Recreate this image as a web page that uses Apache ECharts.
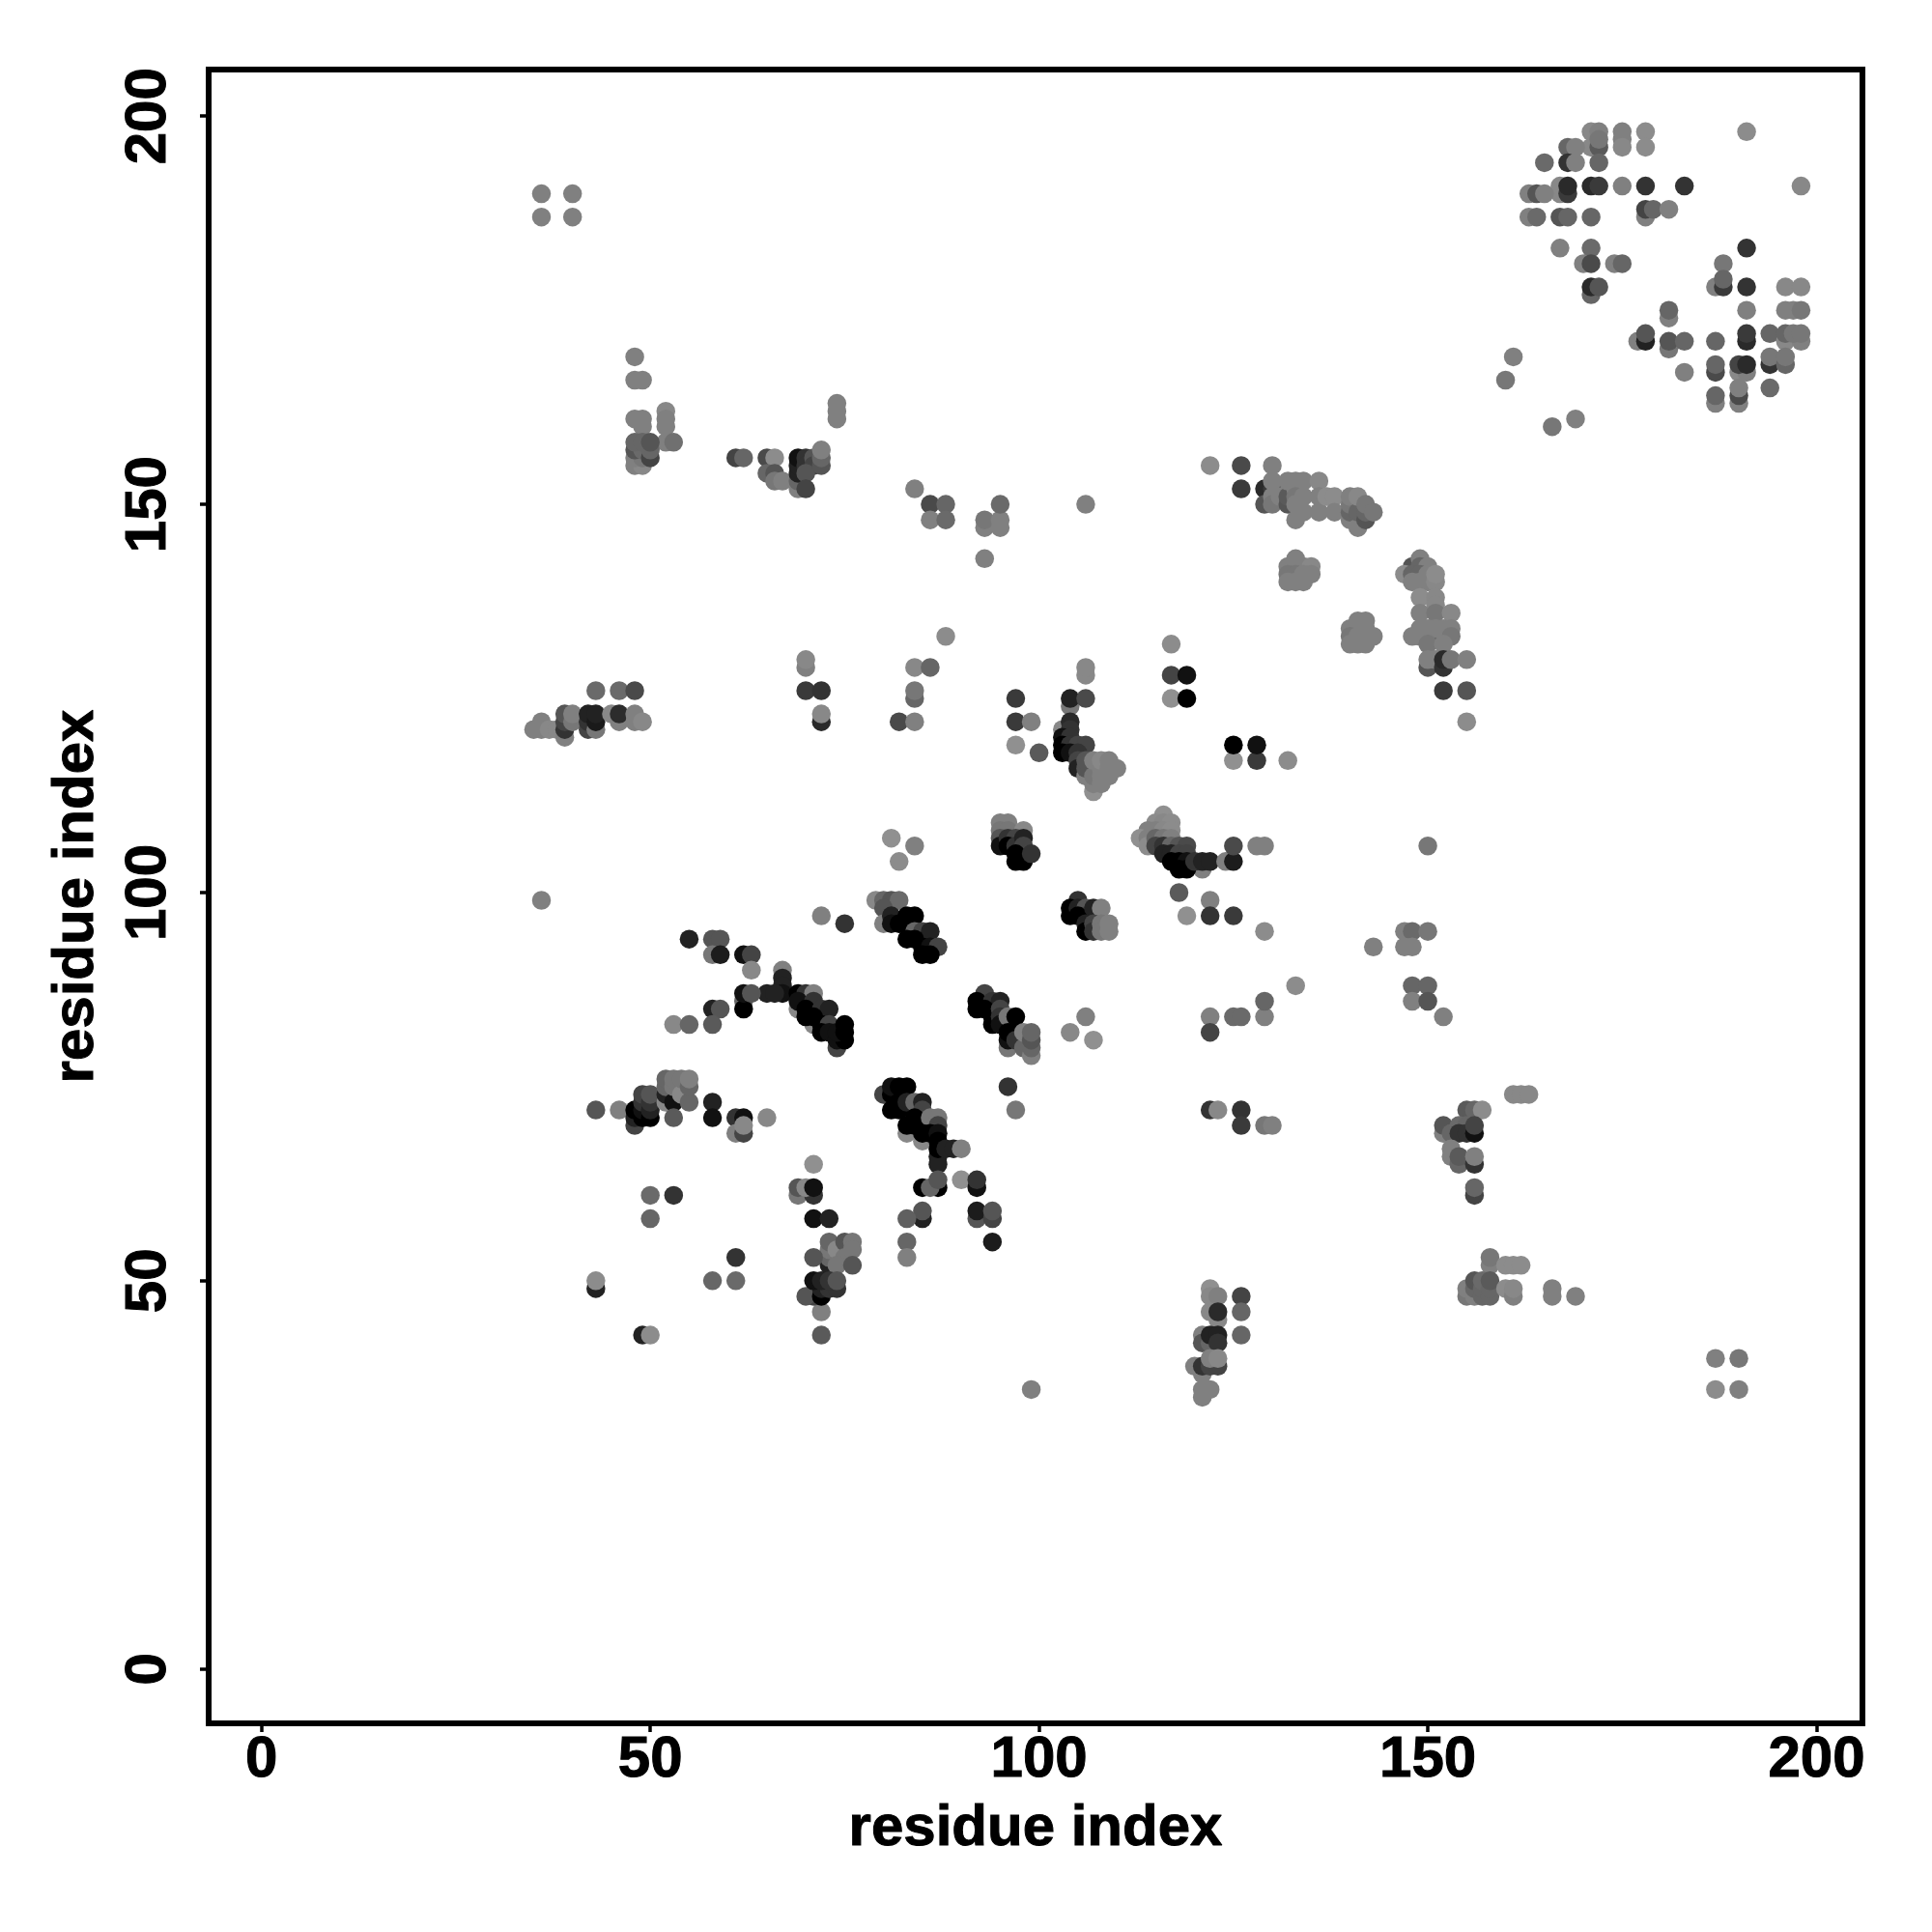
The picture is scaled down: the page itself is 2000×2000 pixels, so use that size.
<!DOCTYPE html>
<html><head><meta charset="utf-8">
<script src="https://cdn.jsdelivr.net/npm/echarts@6/dist/echarts.min.js"></script>
<style>html,body{margin:0;padding:0;background:#fff}#c{width:2000px;height:2000px}</style>
</head><body><div id="c"></div>
<script>
const xTicks=[0,50,100,150,200];
const yTicks=[0,50,100,150,200];
const axisTitle='residue index';
// each point: [residue x, residue y, grey level]
const strandA=[[69,85,136],[71,83,136],[67,90,128],[67,89,34],[67,88,34],[67,87,17],[65,87,34],[66,87,34],[69,87,0],[70,87,51],[71,87,128],[69,86,17],[71,86,51],[70,85,0],[72,85,51],[73,85,34],[70,84,0],[71,84,0],[72,83,0],[73,83,68],[72,82,0],[73,82,17],[74,80,68],[74,81,17],[75,81,0],[74,82,17],[75,82,0],[75,83,0]];
const sheetUpper=[[55,94,34],[58,94,85],[59,94,85],[58,92,119],[59,92,28],[62,92,17],[63,92,68],[63,90,136],[62,86,102],[62,85,0],[62,87,17],[63,87,85],[58,85,34],[59,85,85],[53,83,136],[55,83,102],[58,83,90]];
const clusterLeft=[[43,72,85],[46,72,128],[48,70,68],[48,71,34],[48,72,0],[49,71,0],[49,72,17],[49,73,51],[49,74,68],[50,71,0],[50,72,34],[50,73,51],[50,74,85],[52,73,136],[52,74,34],[52,75,102],[52,76,102],[53,73,17],[53,75,119],[53,76,119],[53,71,90],[54,74,136],[54,76,119],[55,73,102],[55,75,102],[55,76,128],[58,73,34],[58,71,17],[61,71,51],[62,71,17],[61,69,128],[62,69,68],[62,70,136],[65,71,136]];
const clusterMid=[[71,65,144],[69,61,119],[71,61,51],[69,62,85],[70,62,136],[71,62,17],[71,58,17],[73,58,34],[50,61,106],[53,61,51],[50,58,102],[61,53,51],[58,50,102],[61,50,106],[43,49,34],[43,50,140],[49,43,34],[50,43,140],[72,43,90],[72,46,128]];
const clusterLow=[[73,52,34],[73,53,102],[73,54,119],[73,55,102],[74,54,136],[75,55,85],[76,55,119],[75,53,119],[76,54,119],[74,52,119],[76,52,85],[71,53,85],[71,48,68],[70,48,85],[72,48,0],[72,49,34],[73,49,51],[74,49,51],[71,50,17],[72,50,34],[73,50,51],[74,50,85]];
const strandB=[[80,74,68],[83,69,136],[85,68,136],[81,72,0],[81,74,0],[81,75,17],[82,75,0],[83,75,0],[82,72,0],[82,73,0],[83,73,34],[84,73,102],[85,73,34],[85,72,68],[83,70,0],[84,70,0],[84,71,0],[85,70,0],[86,71,119],[87,71,119],[87,70,68],[85,69,0],[86,69,0],[87,69,17],[87,68,0],[87,66,34],[87,65,34],[87,67,0],[88,67,34],[89,67,34],[90,67,128],[85,62,0],[87,62,0],[86,62,102],[87,63,85],[90,63,144],[92,62,17],[92,63,51],[92,58,85],[92,59,28],[94,58,68],[94,59,85],[94,55,28],[85,58,34],[85,59,85],[83,58,96],[83,55,102],[83,53,128],[96,75,51],[97,72,119]];
const strandC=[[93,87,68],[92,86,0],[92,85,0],[94,86,51],[95,86,34],[93,85,0],[94,84,0],[94,83,0],[95,85,68],[95,84,51],[95,83,17],[96,80,119],[96,84,119],[97,84,0],[96,81,17],[96,82,0],[97,82,0],[97,81,51],[98,80,102],[98,82,128],[99,79,128],[99,80,102],[99,81,85],[99,82,102],[106,84,128],[104,82,136],[107,81,144]];
const bandTopLeft=[[35,121,128],[36,121,128],[36,122,128],[37,121,136],[38,121,136],[39,120,128],[39,121,51],[39,122,68],[39,123,85],[40,122,119],[40,123,128],[42,121,68],[42,122,51],[43,121,119],[42,123,34],[43,122,26],[43,123,34],[45,123,136],[46,122,128],[46,123,44],[48,122,128],[48,123,128],[49,122,136],[43,126,106],[46,126,106],[48,126,74]];
const pairsTop=[[70,129,128],[70,130,136],[70,126,58],[72,126,51],[72,122,42],[72,123,136],[88,133,140],[84,129,136],[86,129,102],[84,125,102],[84,126,119],[82,122,74],[84,122,128],[36,99,128],[81,107,144],[84,106,128],[82,104,140],[72,97,128],[75,96,51]];
const strandD=[[79,99,136],[80,99,102],[81,99,85],[82,99,106],[80,98,85],[80,96,128],[81,97,34],[81,96,17],[83,97,0],[84,97,0],[82,96,0],[84,95,102],[85,95,68],[86,95,34],[84,94,0],[83,94,0],[85,93,0],[86,93,17],[87,93,68],[85,92,0],[86,92,0]];
const contactsMid=[[97,125,58],[97,122,58],[99,122,128],[97,119,144],[100,118,90],[106,128,136],[106,129,136],[104,124,119],[104,125,34],[106,125,74],[117,132,140],[117,128,68],[119,128,17],[117,125,144],[119,125,0],[125,117,144],[128,117,58],[125,119,0],[128,119,17],[132,117,140],[93,143,128],[106,150,128]];
const strandE=[[103,121,136],[104,122,42],[104,121,51],[103,120,17],[104,120,51],[103,119,0],[104,119,51],[105,119,68],[106,119,68],[103,118,0],[104,118,17],[105,118,51],[105,117,68],[105,116,34],[106,115,128],[106,116,85],[106,117,85],[107,113,144],[107,114,128],[107,115,119],[107,117,128],[108,114,128],[108,115,128],[108,116,128],[108,117,136],[109,115,128],[109,116,128],[109,117,128],[110,116,128]];
const blockF=[[95,109,128],[96,109,128],[95,108,119],[96,108,119],[98,108,136],[95,107,85],[95,106,17],[96,107,51],[97,107,68],[96,106,0],[97,106,51],[98,107,34],[98,106,68],[97,105,0],[97,104,0],[98,104,0],[99,105,51]];
const strandG=[[116,110,144],[115,109,140],[116,109,136],[117,109,140],[114,108,128],[115,108,128],[116,108,136],[117,108,140],[113,107,144],[114,107,128],[114,106,140],[115,107,102],[116,107,119],[117,107,128],[115,106,68],[116,106,51],[117,106,102],[118,106,85],[119,106,74],[116,105,34],[117,105,34],[118,105,68],[119,105,68],[121,103,128],[117,104,0],[118,104,0],[119,104,17],[118,103,0],[119,103,0],[120,104,51],[121,104,34],[122,104,34],[124,104,128],[125,104,28],[125,106,74],[128,106,128],[129,106,128]];
const pairsH=[[118,100,90],[122,99,128],[119,97,144],[122,97,51],[125,97,58],[129,95,140],[133,88,140],[122,84,128],[122,82,68],[125,84,106],[126,84,106],[129,84,128],[129,86,102],[122,72,51],[123,72,136],[126,72,51],[126,70,58],[129,70,119],[130,70,128],[99,36,128]];
const blockI=[[105,99,51],[104,98,0],[104,97,0],[105,98,34],[106,98,85],[106,97,68],[105,97,0],[107,98,34],[108,98,128],[106,96,34],[106,95,0],[107,96,68],[107,95,51],[108,96,119],[108,95,119],[109,96,128],[109,95,128]];
const clusterLowMid=[[122,49,144],[122,48,136],[123,48,128],[126,48,68],[122,46,136],[123,45,136],[123,46,42],[126,46,102],[121,43,128],[121,42,85],[122,42,102],[122,43,34],[123,43,34],[123,42,51],[126,43,102],[120,39,128],[121,38,128],[121,39,51],[122,39,68],[123,39,68],[122,40,128],[123,40,136],[121,36,128],[122,36,128],[121,35,128]];
const helixTopA=[[122,155,140],[126,155,74],[130,155,128],[126,152,58],[129,152,42],[129,150,85],[130,152,58],[130,153,128],[130,151,128],[130,150,119],[131,151,128],[132,150,85],[132,151,90],[132,153,128],[133,153,128],[134,153,128],[136,153,136],[133,152,128],[133,151,119],[133,150,128],[133,148,128],[134,151,128],[134,149,128],[136,151,128],[136,149,128],[137,151,140],[138,151,140],[138,149,128],[140,148,128],[140,149,102],[140,150,119],[140,151,128],[141,147,128],[141,149,102],[141,151,136],[142,148,85],[142,149,102],[142,150,119],[143,149,119]];
const blobsJ=[[133,143,128],[132,142,128],[133,142,128],[134,142,128],[135,142,136],[132,141,119],[133,141,119],[134,141,128],[135,141,128],[132,140,128],[133,140,128],[134,140,128],[141,135,128],[142,135,128],[140,134,128],[141,134,128],[142,134,128],[140,133,119],[141,133,128],[142,133,128],[143,133,128],[140,132,128],[141,132,128],[142,132,128]];
const sideK=[[148,142,85],[149,143,128],[149,142,102],[150,142,128],[147,141,140],[148,141,102],[149,141,102],[148,140,128],[149,140,128],[150,141,128],[150,140,128],[151,140,136],[151,141,140],[149,138,140],[151,138,136],[151,137,136],[149,136,128],[151,136,119],[153,136,136],[150,133,85],[151,133,85],[152,133,85],[149,134,128],[150,134,128],[151,134,128],[152,134,128],[153,134,128],[148,133,128],[149,133,128],[153,133,119],[150,132,119],[152,132,128],[150,129,85],[150,130,128],[151,130,128],[152,129,51],[152,130,42],[153,130,119],[155,130,128],[152,126,58],[155,126,85],[155,122,140]];
const cornerL=[[191,198,140],[171,198,136],[172,198,128],[175,198,128],[178,198,140],[175,197,128],[171,196,136],[172,196,90],[172,197,119],[175,196,136],[178,196,140],[168,196,102],[169,196,128],[165,194,106],[168,194,51],[169,194,128],[172,194,102],[198,191,136],[183,191,51],[178,191,51],[175,191,128],[171,191,42],[172,191,58],[167,190,136],[167,191,136],[168,190,58],[168,191,42],[163,190,128],[164,190,85],[165,190,128],[178,187,128],[178,188,68],[179,188,102],[181,188,128],[163,187,128],[164,187,106],[167,187,85],[168,187,102],[171,187,102],[167,183,128],[171,183,106],[191,183,51],[170,181,128],[171,181,74],[174,181,128],[175,181,102],[171,177,102],[171,178,42],[172,178,85]];
const cornerM=[[188,181,119],[187,178,128],[188,178,58],[188,179,102],[191,178,51],[196,178,136],[198,178,136],[191,175,128],[196,175,128],[197,175,128],[198,175,119],[181,174,128],[181,175,102],[177,171,128],[178,171,34],[178,172,85],[181,170,119],[181,171,85],[183,171,102],[187,171,102],[191,171,42],[191,172,58],[194,172,102],[196,171,136],[198,171,128],[196,172,102],[197,172,119],[198,172,119],[161,169,128],[160,166,119],[169,161,128],[166,160,119],[183,167,128],[187,167,74],[187,168,102],[190,167,136],[191,167,128],[190,168,68],[191,168,42],[194,168,51],[194,169,119],[196,168,102],[196,169,119],[194,165,106],[187,163,128],[187,164,102],[190,163,128],[190,164,74],[190,165,128]];
const topLeftM=[[48,169,128],[48,166,128],[49,166,128],[48,161,128],[49,161,128],[49,160,128],[52,162,136],[52,161,128],[52,160,128],[52,158,128],[53,158,112],[48,155,128],[49,155,136],[48,156,128],[49,156,119],[48,157,85],[49,157,106],[50,156,68],[50,157,102],[48,158,102],[49,158,102],[50,158,85],[61,156,68],[62,156,102],[65,156,74],[66,156,140],[65,154,102],[66,154,85],[66,153,119],[67,153,128],[69,152,128],[69,153,102],[69,154,34],[69,155,34],[69,156,17],[70,156,51],[70,155,51],[71,156,85],[71,155,68],[70,154,85],[70,152,68],[72,155,85],[72,156,102],[72,157,128],[74,163,128],[74,162,128],[74,161,128],[84,152,128],[86,150,74],[88,150,102],[86,148,128],[88,148,106],[93,147,128],[93,148,119],[95,147,128],[95,148,128],[95,150,106],[36,190,128],[36,187,128],[40,190,128],[40,187,128]];
const lowerRightN=[[161,74,136],[162,74,136],[163,74,136],[155,72,90],[156,72,102],[157,72,140],[152,69,128],[152,70,85],[153,69,102],[154,70,106],[155,70,102],[154,69,51],[155,69,51],[156,69,17],[156,70,68],[153,67,128],[153,66,128],[154,65,102],[154,66,90],[156,65,51],[156,66,128],[156,61,68],[156,62,102],[158,52,128],[158,53,119],[160,52,140],[161,52,140],[162,52,140],[155,48,119],[155,49,128],[156,48,128],[156,49,102],[156,50,85],[157,48,102],[157,49,102],[157,50,106],[158,48,102],[158,49,102],[158,50,90],[160,49,140],[161,48,128],[161,49,136],[166,48,128],[166,49,128],[169,48,128],[187,40,128],[190,40,119],[187,36,140],[190,36,128]];
const rightO=[[150,106,119],[147,95,128],[148,95,106],[150,95,119],[143,93,128],[147,93,128],[148,93,128],[148,88,102],[150,88,102],[148,86,128],[150,86,85],[152,84,128]];

const points=[].concat(strandA,sheetUpper,clusterLeft,clusterMid,clusterLow,strandB,strandC,bandTopLeft,pairsTop,strandD,contactsMid,strandE,blockF,strandG,pairsH,blockI,clusterLowMid,helixTopA,blobsJ,sideK,cornerL,cornerM,topLeftM,lowerRightN,rightO);

const font={fontFamily:'"Liberation Sans"',fontWeight:'bold',fontSize:60,color:'#000',textBorderColor:'#000',textBorderWidth:1};
const chart=echarts.init(document.getElementById('c'),null,{renderer:'canvas'});
chart.setOption({
  animation:false,
  backgroundColor:'#fff',
  grid:{left:216,right:72,top:72,bottom:216,show:true,borderColor:'#000',borderWidth:6,backgroundColor:'#fff'},
  xAxis:{type:'value',min:-6.8,max:205.9,name:axisTitle,nameLocation:'middle',nameGap:79,nameTextStyle:font,
    axisLine:{show:false,onZero:false},splitLine:{show:false},
    axisTick:{show:true,customValues:xTicks,length:9,lineStyle:{color:'#000',width:3.5}},
    axisLabel:Object.assign({customValues:xTicks,margin:8,hideOverlap:false},font)},
  yAxis:{type:'value',min:-7,max:206,name:axisTitle,nameLocation:'middle',nameGap:107,nameRotate:90,nameTextStyle:font,
    axisLine:{show:false,onZero:false},splitLine:{show:false},
    axisTick:{show:true,customValues:yTicks,length:9,lineStyle:{color:'#000',width:3.5}},
    axisLabel:Object.assign({customValues:yTicks,margin:32,rotate:90,hideOverlap:false,verticalAlign:'bottom',align:'center'},font)},
  series:[{type:'scatter',data:points,symbol:'circle',symbolSize:19.5,clip:false,silent:true,
    itemStyle:{opacity:1,color:p=>{const g=p.value[2];return 'rgb('+g+','+g+','+g+')';}},
    encode:{x:0,y:1}}]
});
</script></body></html>
